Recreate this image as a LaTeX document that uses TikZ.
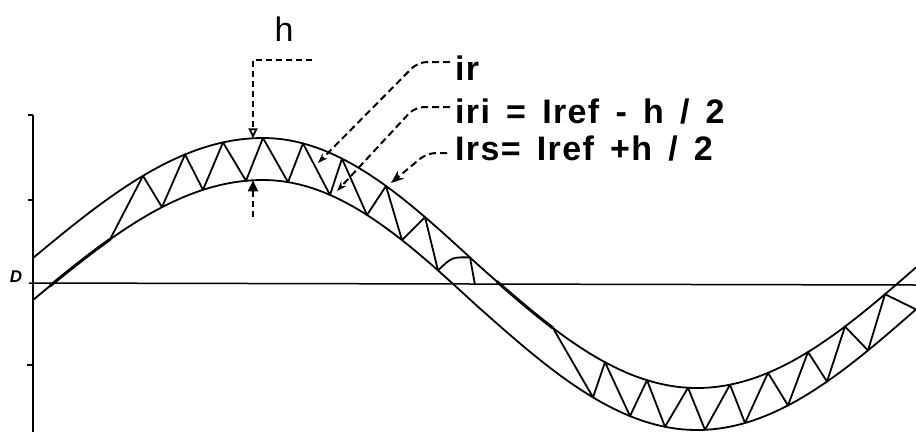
\documentclass[tikz,border=0pt]{standalone}
\usepackage{fontspec}
\setmainfont{Liberation Sans}
\newfontfamily\lblfont[LetterSpace=4,WordSpace=1.5]{Liberation Sans}
\usetikzlibrary{arrows.meta}
\begin{document}
\begin{tikzpicture}[x=1pt,y=-1pt,
  declare function={
    ph(\t)=(\t<263)?((\t-27)/236*90):((\t<476)?(90+(\t-263)/213*90):((\t<697)?(180+(\t-476)/221*90):(270+(\t-697)/224*90)));
    irc(\t)=284-125*sin(ph(\t));
    up(\t)=irc(\t)-21;
    lo(\t)=irc(\t)+21;
  },
  band/.style={line width=1.8pt},
  zig/.style={line width=1.8pt, line join=round},
  thickzig/.style={line width=3pt, line cap=round},
  axisline/.style={line width=1.5pt},
  dim/.style={line width=1.8pt, dash pattern=on 6pt off 4pt},
  leader/.style={line width=2pt, dash pattern=on 7pt off 4pt, rounded corners=9pt},
  lbl/.style={font=\lblfont\bfseries\fontsize{34}{34}\selectfont, inner sep=0pt, anchor=base west}]
\useasboundingbox (0,0) rectangle (916,432);

% axes
\draw[axisline] (33,115) -- (33,432);
\draw[axisline] (28,115) -- (33,115);
\draw[axisline] (28,200) -- (33,200);
\draw[axisline] (27,365) -- (33,365);
\draw[axisline] (29,283) -- (916,285);
\node[font=\bfseries\itshape\fontsize{17}{17}\selectfont, inner sep=0pt] (dlab) at (16,277) {D};

% band curves
\draw[band] plot[domain=33:916, samples=220, smooth] (\x,{up(\x)});
\draw[band] plot[domain=33:916, samples=220, smooth] (\x,{lo(\x)});

% current ir
\draw[thickzig] plot[domain=50:110, samples=30, smooth] (\x,{lo(\x)});
\draw[zig] (110,{lo(110)}) -- (143,{up(143)}) -- (162,{lo(162)}) -- (185,{up(185)})
  -- (203,{lo(203)}) -- (223,{up(223)}) -- (246,{lo(246)}) -- (263,{up(263)})
  -- (288,{lo(288)}) -- (303,{up(303)}) -- (330,{lo(330)}) -- (342,{up(342)})
  -- (367,{lo(367)}) -- (386,{up(386)}) -- (402,{lo(402)}) -- (425,{up(425)})
  -- (438,{lo(438)}) .. controls (452,257) .. (470,{up(470)}) -- (475,285);
\draw[thickzig] plot[domain=497:553, samples=30, smooth] (\x,{up(\x)});
\draw[zig] (553,{up(553)}) -- (593,{lo(593)}) -- (605,{up(605)}) -- (630,{lo(630)})
  -- (647,{up(647)}) -- (665,{lo(665)}) -- (688,{up(688)}) -- (705,{lo(705)})
  -- (730,{up(730)}) -- (745,{lo(745)}) -- (768,{up(768)}) -- (788,{lo(788)})
  -- (808,{up(808)}) -- (827,{lo(827)}) -- (845,{up(845)}) -- (868,{lo(868)})
  -- (885,{up(885)}) -- (916,{lo(916)});

% h dimension
\node[font=\lblfont\fontsize{34}{34}\selectfont, inner sep=0pt] (hlab) at (284,29) {h};
\coordinate (hs) at (312,60);
\coordinate (hc) at (253,60);
\coordinate (hT) at (253,{up(253)});
\coordinate (hB) at (253,{lo(253)});
\coordinate (hE) at (253,217);
\draw[dim, -{Triangle[open, length=10pt, width=9pt, fill=white]}] (hs) -- (hc) -- (hT);
\draw[dim, -{Triangle[length=11pt, width=10pt]}] (hE) -- (hB);

% labels
\node[lbl] (t1) at (455,80) {ir};
\node[lbl] (t2) at (455,123) {iri = Iref - h / 2};
\node[lbl] (t3) at (455,160) {Irs= Iref +h / 2};

\coordinate (l1s) at (450,62);
\coordinate (l1c) at (418,62);
\coordinate (l1t) at (318,163);
\coordinate (l2s) at (450,107);
\coordinate (l2c) at (415,107);
\coordinate (l2t) at (337,191);
\coordinate (l3s) at (447,153);
\coordinate (l3c) at (427,153);
\coordinate (l3t) at (391,183);
\draw[leader, -{Stealth[length=10pt, width=7pt]}] (l1s) -- (l1c) -- (l1t);
\draw[leader, -{Stealth[length=10pt, width=7pt]}] (l2s) -- (l2c) -- (l2t);
\draw[leader, -{Stealth[length=13pt, width=10pt]}] (l3s) -- (l3c) -- (l3t);
\end{tikzpicture}
\end{document}
